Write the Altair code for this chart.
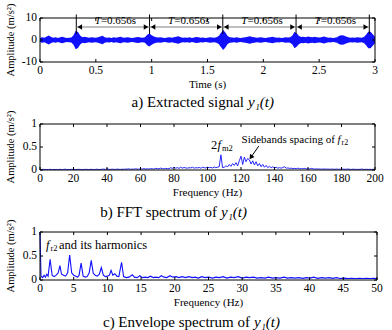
import altair as alt
import pandas as pd

FONT = "Liberation Serif"
BLUE = "#1010ff"

# ---------------- a) extracted signal y1(t) ----------------
# amplitude envelope (m/s^2), one value every 0.02 s from 0 to 3 s
sig_step = 0.02
sig_env = [
    1.0, 1.2, 1.0, 1.6, 2.0, 1.4, 1.0, 1.2, 0.9, 1.3,
    1.5, 1.1, 0.9, 1.0, 1.1, 2.2, 4.2, 3.6, 2.0, 1.3,
    1.5, 1.2, 1.0, 1.3, 1.1, 1.0, 1.2, 1.6, 1.9, 1.3,
    1.0, 1.1, 0.9, 1.2, 1.0, 1.3, 1.5, 1.1, 1.0, 1.2,
    1.1, 0.9, 1.0, 1.2, 1.4, 1.1, 1.0, 1.3, 2.4, 3.0,
    2.2, 1.6, 1.3, 1.1, 1.2, 1.0, 0.9, 1.1, 1.2, 1.0,
    1.3, 1.5, 1.7, 1.3, 1.0, 1.1, 1.0, 1.2, 0.9, 1.1,
    1.4, 1.2, 1.0, 1.1, 0.9, 1.0, 1.2, 1.1, 1.0, 1.3,
    1.8, 3.2, 4.5, 3.4, 1.8, 1.3, 1.1, 1.0, 1.2, 1.0,
    0.9, 1.1, 1.3, 1.5, 1.7, 1.4, 1.2, 1.0, 1.1, 1.3,
    1.0, 0.9, 1.1, 1.2, 1.5, 1.3, 1.0, 1.1, 0.9, 1.0,
    1.2, 1.1, 1.3, 2.0, 3.8, 3.0, 1.8, 1.4, 1.5, 1.3,
    1.6, 1.4, 1.2, 1.5, 1.3, 1.1, 1.2, 1.6, 1.4, 1.0,
    1.1, 0.9, 1.0, 1.3, 1.9, 2.2, 2.1, 1.6, 1.2, 1.0,
    1.1, 1.0, 1.2, 1.1, 1.0, 1.4, 2.4, 3.7, 3.8, 2.6,
    1.5,
]
sig_time = [round(i * sig_step, 2) for i in range(len(sig_env))]

# impact instants separated by one period T = 0.656 s
period_marks = [0.325, 0.981, 1.637, 2.293, 2.949]
period_text = "=0.656s"

time_ticks = [0, 0.5, 1, 1.5, 2, 2.5, 3]
amp_ticks_a = [-10, 0, 10]

# ---------------- b) FFT spectrum ----------------
fft_amp = [
    0.02, 0.01, 0.015, 0.01, 0.012, 0.01, 0.015, 0.01, 0.012, 0.01,
    0.012, 0.01, 0.015, 0.01, 0.012, 0.018, 0.01, 0.012, 0.01, 0.015,
    0.01, 0.012, 0.01, 0.015, 0.01, 0.012, 0.01, 0.015, 0.012, 0.01,
    0.012, 0.015, 0.01, 0.012, 0.018, 0.01, 0.012, 0.015, 0.02, 0.012,
    0.03, 0.015, 0.012, 0.018, 0.015, 0.012, 0.02, 0.015, 0.012, 0.018,
    0.015, 0.02, 0.018, 0.025, 0.015, 0.02, 0.018, 0.025, 0.02, 0.018,
    0.025, 0.02, 0.03, 0.022, 0.025, 0.02, 0.03, 0.025, 0.022, 0.035,
    0.03, 0.025, 0.04, 0.03, 0.025, 0.035, 0.03, 0.028, 0.05, 0.035,
    0.06, 0.04, 0.05, 0.035, 0.06, 0.04, 0.055, 0.045, 0.04, 0.05,
    0.045, 0.06, 0.04, 0.05, 0.045, 0.055, 0.04, 0.06, 0.05, 0.045,
    0.06, 0.05, 0.055, 0.045, 0.065, 0.05, 0.06, 0.07, 0.33, 0.05,
    0.06, 0.09, 0.07, 0.12, 0.08, 0.14, 0.1, 0.16, 0.09, 0.2,
    0.3, 0.12, 0.28, 0.18, 0.25, 0.22, 0.13, 0.2, 0.11, 0.18,
    0.09, 0.14, 0.07, 0.12, 0.06, 0.1, 0.05, 0.08, 0.05, 0.07,
    0.045, 0.06, 0.04, 0.05, 0.04, 0.055, 0.07, 0.04, 0.045, 0.035,
    0.04, 0.03, 0.035, 0.03, 0.04, 0.028, 0.03, 0.025, 0.035, 0.025,
    0.03, 0.022, 0.035, 0.025, 0.02, 0.025, 0.02, 0.022, 0.018, 0.02,
    0.022, 0.018, 0.02, 0.015, 0.02, 0.018, 0.015, 0.02, 0.015, 0.018,
    0.015, 0.02, 0.015, 0.018, 0.02, 0.015, 0.012, 0.018, 0.015, 0.012,
    0.015, 0.012, 0.02, 0.015, 0.012, 0.015, 0.012, 0.015, 0.012, 0.015,
    0.012,
]
fft_freq = list(range(len(fft_amp)))
fft_ticks = [0, 20, 40, 60, 80, 100, 120, 140, 160, 180, 200]
unit_ticks = [0, 0.5, 1]

# ---------------- c) envelope spectrum ----------------
env_freq = [
    0, 0.15, 0.4, 0.6, 0.8, 1.0, 1.2, 1.5, 1.8, 2.1,
    2.4, 2.7, 2.95, 3.2, 3.5, 3.8, 4.1, 4.4, 4.7, 5.0,
    5.3, 5.6, 5.8, 6.1, 6.4, 6.7, 7.0, 7.3, 7.6, 7.9,
    8.2, 8.5, 8.8, 9.1, 9.4, 9.7, 10.0, 10.3, 10.55, 10.8,
    11.1, 11.4, 11.7, 12.1, 12.4, 12.8, 13.2, 13.7, 14.0, 14.4,
    14.8, 15.2, 15.6, 16.0, 16.4, 16.8, 17.2, 17.6, 18.0, 18.4,
    18.8, 19.3, 19.7, 20.2, 20.6, 21.1, 21.6, 22.1, 22.6, 23.0,
    23.5, 24.0, 24.5, 25.0, 25.6, 26.1, 26.6, 27.2, 27.7, 28.3,
    28.8, 29.4, 30.0, 30.6, 31.1, 31.7, 32.2, 32.8, 33.4, 33.9,
    34.5, 35.0, 35.6, 36.2, 36.7, 37.3, 37.8, 38.4, 39.0, 39.5,
    40.1, 40.6, 41.2, 41.8, 42.3, 42.9, 43.4, 44.0, 44.5, 45.1,
    45.7, 46.2, 46.8, 47.4, 47.9, 48.5, 49.0, 49.5, 50.0,
]
env_amp = [
    1.0, 0.08, 0.05, 0.1, 0.06, 0.12, 0.08, 0.43, 0.1, 0.07,
    0.1, 0.15, 0.3, 0.12, 0.1, 0.08, 0.15, 0.52, 0.15, 0.1,
    0.08, 0.06, 0.1, 0.35, 0.08, 0.06, 0.07, 0.15, 0.41, 0.14,
    0.1, 0.08, 0.12, 0.26, 0.1, 0.07, 0.08, 0.1, 0.2, 0.1,
    0.13, 0.08, 0.07, 0.37, 0.07, 0.05, 0.06, 0.11, 0.06, 0.05,
    0.09, 0.05, 0.06, 0.05, 0.08, 0.05, 0.06, 0.05, 0.09, 0.06,
    0.05, 0.09, 0.06, 0.07, 0.05, 0.07, 0.05, 0.07, 0.05, 0.06,
    0.04, 0.07, 0.05, 0.06, 0.04, 0.06, 0.05, 0.07, 0.04, 0.06,
    0.05, 0.07, 0.04, 0.06, 0.05, 0.06, 0.04, 0.05, 0.04, 0.06,
    0.04, 0.05, 0.04, 0.06, 0.04, 0.05, 0.04, 0.05, 0.035, 0.05,
    0.04, 0.06, 0.035, 0.05, 0.04, 0.05, 0.035, 0.05, 0.03, 0.04,
    0.03, 0.035, 0.03, 0.035, 0.03, 0.035, 0.03, 0.035, 0.03,
]
env_ticks = [0, 5, 10, 15, 20, 25, 30, 35, 40, 45, 50]

AMP_TITLE = "Amplitude (m/s²)"
FREQ_TITLE = "Frequency (Hz)"
LABEL_SIZE = 11.5
TITLE_SIZE = 11


def txt(text, x, y, size=11, style="normal", align="left", angle=0):
    return alt.Chart(alt.Data(values=[{}])).mark_text(
        text=text, font=FONT, fontSize=size, fontStyle=style, align=align,
        baseline="middle", color="black", angle=angle,
    ).encode(x=alt.value(x), y=alt.value(y))


class Panel:
    """Shared scales for one panel, plus a MATLAB-style box with inward ticks,
    tick labels and axis titles drawn in the serif font."""

    def __init__(self, xdom, ydom, xtitle, xticks, yticks, W, H):
        self.xscale = alt.Scale(domain=xdom, nice=False)
        self.yscale = alt.Scale(domain=ydom, nice=False)
        self.xtitle = xtitle
        self.xticks, self.yticks = xticks, yticks
        self.W, self.H = W, H

    def X(self, field):
        return alt.X(f"{field}:Q", scale=self.xscale, axis=None)

    def Y(self, field):
        return alt.Y(f"{field}:Q", scale=self.yscale, axis=None)

    def box(self, L=3):
        W, H = self.W, self.H
        dx = pd.DataFrame({"xv": self.xticks, "lab": [f"{v:g}" for v in self.xticks]})
        dy = pd.DataFrame({"yv": self.yticks, "lab": [f"{v:g}" for v in self.yticks]})
        r = dict(color="black", strokeWidth=1)
        lab = dict(font=FONT, fontSize=LABEL_SIZE, color="black", baseline="middle")
        rect = alt.Chart(alt.Data(values=[{}])).mark_rect(
            fill=None, stroke="black", strokeWidth=1, fillOpacity=0
        ).encode(x=alt.value(0), x2=alt.value(W), y=alt.value(0), y2=alt.value(H))
        return [
            rect,
            alt.Chart(dx).mark_rule(**r).encode(x=self.X("xv"), y=alt.value(H), y2=alt.value(H - L)),
            alt.Chart(dx).mark_rule(**r).encode(x=self.X("xv"), y=alt.value(0), y2=alt.value(L)),
            alt.Chart(dy).mark_rule(**r).encode(y=self.Y("yv"), x=alt.value(0), x2=alt.value(L)),
            alt.Chart(dy).mark_rule(**r).encode(y=self.Y("yv"), x=alt.value(W), x2=alt.value(W - L)),
            alt.Chart(dx).mark_text(align="center", **lab).encode(
                x=self.X("xv"), y=alt.value(H + 9), text="lab:N"),
            alt.Chart(dy).mark_text(align="right", **lab).encode(
                y=self.Y("yv"), x=alt.value(-3), text="lab:N"),
            txt(self.xtitle, W / 2, H + 23, size=TITLE_SIZE, align="center"),
            txt(AMP_TITLE, -29.5, H / 2, size=10.5, align="center", angle=270),
        ]


def caption(prefix, split, y):
    return [
        txt(prefix, split, y, size=15, align="right"),
        txt("y\u2081(t)", split + 4, y, size=15, style="italic"),
    ]


# ---------------- panel a ----------------
WA, HA = 335, 44
pa = Panel([0, 3], [-10, 10], "Time (s)", time_ticks, amp_ticks_a, WA, HA)
sig_df = pd.DataFrame({"t": sig_time, "hi": sig_env, "lo": [-v for v in sig_env]})

signal = alt.Chart(sig_df).mark_area(color=BLUE, opacity=1).encode(
    x=pa.X("t"), y=pa.Y("hi"), y2="lo:Q",
)

marks_df = pd.DataFrame({"t": period_marks})
markers = alt.Chart(marks_df).mark_rule(color="black", strokeWidth=1).encode(
    x=pa.X("t"), y=alt.value(-3.5), y2=alt.value(16)
)
spans_df = pd.DataFrame({
    "t": period_marks[:-1],
    "b": period_marks[1:],
    "m": [(p + q) / 2 for p, q in zip(period_marks[:-1], period_marks[1:])],
})
ARROW_Y, LABEL_Y = 9, 3
span_line = alt.Chart(spans_df).mark_rule(color="#808080", strokeWidth=1).encode(
    x=pa.X("t"), x2="b:Q", y=alt.value(ARROW_Y)
)
head_l = alt.Chart(spans_df).mark_point(
    shape="triangle-left", filled=True, color="black", size=28, opacity=1, xOffset=3.5
).encode(x=pa.X("t"), y=alt.value(ARROW_Y))
head_r = alt.Chart(spans_df).mark_point(
    shape="triangle-right", filled=True, color="black", size=28, opacity=1, xOffset=-3.5
).encode(x=pa.X("b"), y=alt.value(ARROW_Y))
lab_T = alt.Chart(spans_df).mark_text(
    text="T", font=FONT, fontSize=11, fontStyle="italic", align="right", dx=-12, color="black"
).encode(x=pa.X("m"), y=alt.value(LABEL_Y))
lab_v = alt.Chart(spans_df).mark_text(
    text=period_text, font=FONT, fontSize=11, align="left", dx=-12, color="black"
).encode(x=pa.X("m"), y=alt.value(LABEL_Y))

panel_a = alt.layer(
    signal, *pa.box(),
    markers, span_line, head_l, head_r, lab_T, lab_v,
    *caption("a) Extracted signal", 204, HA + 40),
).properties(width=WA, height=HA)

# ---------------- panel b ----------------
WB, HB = 335, 46
pb = Panel([0, 200], [0, 1], FREQ_TITLE, fft_ticks, unit_ticks, WB, HB)
fft_df = pd.DataFrame({"f": fft_freq, "a": fft_amp})
fft_line = alt.Chart(fft_df).mark_line(color=BLUE, strokeWidth=0.9).encode(
    x=pb.X("f"), y=pb.Y("a"),
)
arrow_df = pd.DataFrame({"f": [130.6], "a": [0.52], "f1": [126.2], "a1": [0.29]})
arrow_line = alt.Chart(arrow_df).mark_rule(color="black", strokeWidth=1).encode(
    x=pb.X("f"), y=pb.Y("a"), x2="f1:Q", y2="a1:Q"
)
arrow_head = alt.Chart(arrow_df).mark_point(
    shape="triangle", filled=True, color="black", size=30, opacity=1, angle=216
).encode(x=pb.X("f1"), y=pb.Y("a1"))

panel_b = alt.layer(
    fft_line, *pb.box(),
    arrow_line, arrow_head,
    txt("2", 171, 21, size=12.5),
    txt("f", 177.5, 21, size=12.5, style="italic"),
    txt("m2", 182, 24, size=8.5),
    txt("Sidebands spacing of", 295, 16, size=11, align="right"),
    txt("f", 297.5, 16, size=11, style="italic"),
    txt("r2", 301.5, 19, size=8),
    *caption("b) FFT spectrum of", 177, HB + 42),
).properties(width=WB, height=HB)

# ---------------- panel c ----------------
WC, HC = 337, 48
pc = Panel([0, 50], [0, 1], FREQ_TITLE, env_ticks, unit_ticks, WC, HC)
env_df = pd.DataFrame({"f": env_freq, "a": env_amp})
env_line = alt.Chart(env_df).mark_line(color=BLUE, strokeWidth=1.1).encode(
    x=pc.X("f"), y=pc.Y("a"),
)

panel_c = alt.layer(
    env_line, *pc.box(),
    txt("f", 6, 13, size=12.5, style="italic"),
    txt("r2", 10.5, 16, size=8.5),
    txt("and its harmonics", 19, 13, size=12.5),
    *caption("c) Envelope spectrum of", 210, HC + 42),
).properties(width=WC, height=HC)

chart = alt.vconcat(panel_a, panel_b, panel_c, spacing=62, bounds="flush").properties(
    padding={"left": 5, "top": 3, "right": 4, "bottom": 0}
).configure_view(stroke=None)

chart.save("out.html", embed_options={"renderer": "svg", "actions": False})
